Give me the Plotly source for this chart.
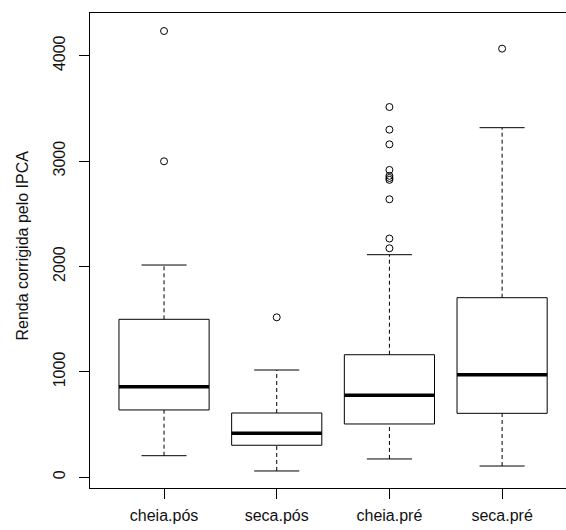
import plotly.graph_objects as go

categories = ["cheia.pós", "seca.pós", "cheia.pré", "seca.pré"]
lower_whisker = [205, 60, 174, 107]
q1 = [639, 304, 506, 607]
median = [860, 417, 778, 974]
q3 = [1499, 610, 1163, 1704]
upper_whisker = [2014, 1018, 2112, 3317]
outliers = [
    [4234, 2998],
    [1518],
    [3513, 3298, 3159, 2916, 2860, 2840, 2822, 2638, 2265, 2173],
    [4067],
]
y_ticks = [0, 1000, 2000, 3000, 4000]

BOXW = 0.4   # half box width
CAPW = 0.2   # half cap width
FONT = "Liberation Sans, Arial, sans-serif"

fig = go.Figure()
for i, cat in enumerate(categories):
    xc = i + 1
    # whiskers (dashed)
    for a, b in ((q3[i], upper_whisker[i]), (lower_whisker[i], q1[i])):
        fig.add_trace(go.Scatter(x=[xc, xc], y=[a, b], mode="lines",
                                 line=dict(color="black", width=1, dash="4px,3px"),
                                 hoverinfo="skip", showlegend=False))
    # caps
    for v in (upper_whisker[i], lower_whisker[i]):
        fig.add_trace(go.Scatter(x=[xc - CAPW, xc + CAPW], y=[v, v], mode="lines",
                                 line=dict(color="black", width=1),
                                 hoverinfo="skip", showlegend=False))
    # box
    fig.add_trace(go.Scatter(
        x=[xc - BOXW, xc + BOXW, xc + BOXW, xc - BOXW, xc - BOXW],
        y=[q1[i], q1[i], q3[i], q3[i], q1[i]],
        mode="lines", fill="toself", fillcolor="white",
        line=dict(color="black", width=1), hoverinfo="skip", showlegend=False))
    # median
    fig.add_trace(go.Scatter(x=[xc - BOXW, xc + BOXW], y=[median[i], median[i]],
                             mode="lines", line=dict(color="black", width=3.5),
                             hoverinfo="skip", showlegend=False))
    # outliers
    fig.add_trace(go.Scatter(x=[xc] * len(outliers[i]), y=outliers[i], mode="markers",
                             marker=dict(symbol="circle-open", size=7,
                                         color="black", line=dict(width=1)),
                             showlegend=False, name=cat))

fig.update_layout(
    width=566, height=530,
    margin=dict(l=90, r=0, t=13, b=42),
    plot_bgcolor="white", paper_bgcolor="white",
    font=dict(family=FONT, size=16, color="black"),
    xaxis=dict(range=[0.343, 4.567], tickvals=[1, 2, 3, 4], ticktext=categories,
               showgrid=False, zeroline=False, showline=True, linecolor="black",
               linewidth=1, mirror=True, ticks="outside", ticklen=10,
               tickcolor="black", tickfont=dict(size=16, color="#111"),
               automargin=False, ticklabelstandoff=3),
    yaxis=dict(range=[-101.5, 4405], tickvals=y_ticks,
               ticktext=[str(v) for v in y_ticks], tickangle=-90,
               showgrid=False, zeroline=False, showline=True, linecolor="black",
               linewidth=1, ticks="outside", ticklen=10, tickcolor="black",
               tickfont=dict(size=16, color="#111"),
               automargin=False, ticklabelstandoff=8),
    annotations=[dict(text="Renda corrigida pelo IPCA", xref="paper", yref="paper",
                      x=0, y=0.5, xanchor="center", yanchor="middle",
                      xshift=-68, yshift=5, textangle=-90, showarrow=False,
                      font=dict(family=FONT, size=16, color="#111"))],
)

fig.write_html("out.html",
               config={"displayModeBar": False},
               post_script="document.body.style.margin='0';"
                           "document.body.style.overflow='hidden';")
